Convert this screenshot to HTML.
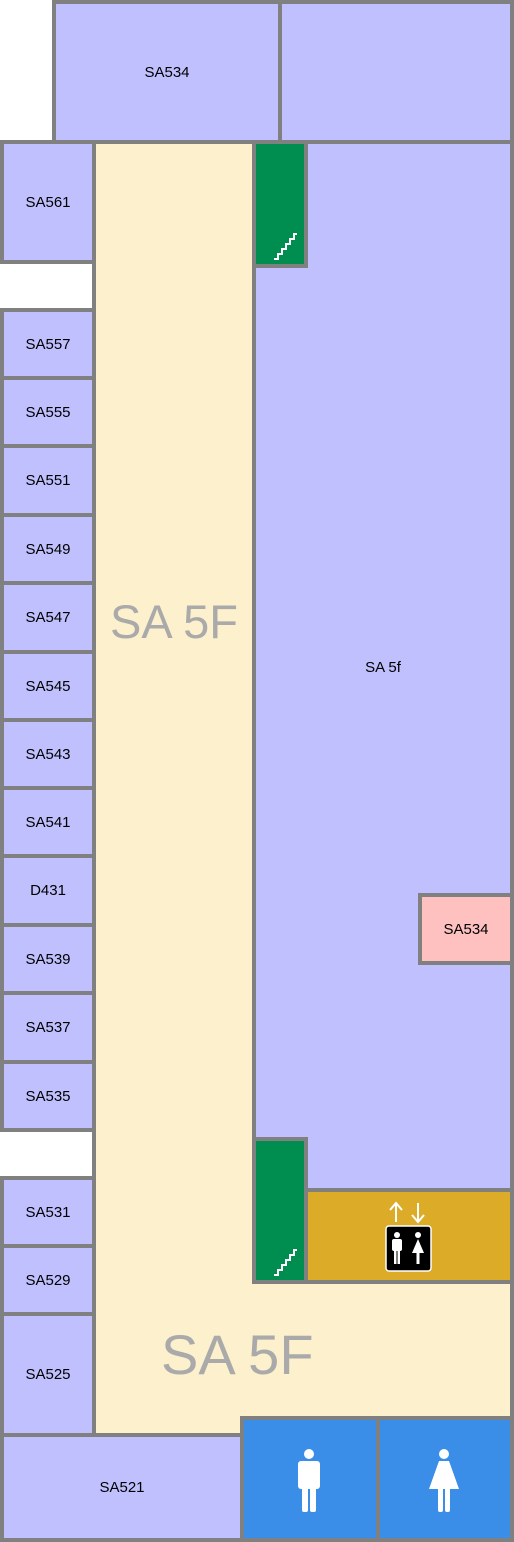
<!DOCTYPE html>
<html><head><style>
body{margin:0;width:514px;height:1542px;position:relative;background:#fff;overflow:hidden;font-family:"Liberation Sans",sans-serif}
.b{position:absolute;box-sizing:border-box;border:4px solid #808080;display:flex;align-items:center;justify-content:center;font-size:15px;color:#000}
.p{background:#c0c0ff}
.c{background:#fdf0cd}
.g{background:#008e50}
.big{position:absolute;color:#aaa;line-height:1}
</style></head><body>
<div class="b p" style="left:52px;top:0;width:230px;height:144px">SA534</div>
<div class="b p" style="left:278px;top:0;width:236px;height:144px"></div>
<div class="b c" style="left:92px;top:140px;width:164px;height:1298px"></div>
<div class="b c" style="left:92px;top:1278px;width:422px;height:160px;border-top:none"></div>
<div style="position:absolute;left:96px;top:1270px;width:158px;height:20px;background:#fdf0cd"></div>
<div class="b p" style="left:252px;top:140px;width:262px;height:1054px">SA 5f</div>
<div class="b p" style="left:0;top:140px;width:96px;height:124px">SA561</div>
<div class="b g" style="left:252px;top:140px;width:56px;height:128px"></div>
<div class="b" style="left:418px;top:893px;width:96px;height:72px;background:#ffc0c0">SA534</div>
<div class="b p" style="left:0;top:308px;width:96px;height:72px">SA557</div>
<div class="b p" style="left:0;top:376px;width:96px;height:72px">SA555</div>
<div class="b p" style="left:0;top:444px;width:96px;height:73px">SA551</div>
<div class="b p" style="left:0;top:513px;width:96px;height:72px">SA549</div>
<div class="b p" style="left:0;top:581px;width:96px;height:73px">SA547</div>
<div class="b p" style="left:0;top:650px;width:96px;height:72px">SA545</div>
<div class="b p" style="left:0;top:718px;width:96px;height:72px">SA543</div>
<div class="b p" style="left:0;top:786px;width:96px;height:72px">SA541</div>
<div class="b p" style="left:0;top:854px;width:96px;height:73px">D431</div>
<div class="b p" style="left:0;top:923px;width:96px;height:72px">SA539</div>
<div class="b p" style="left:0;top:991px;width:96px;height:73px">SA537</div>
<div class="b p" style="left:0;top:1060px;width:96px;height:72px">SA535</div>
<div class="b p" style="left:0;top:1176px;width:96px;height:72px">SA531</div>
<div class="b p" style="left:0;top:1244px;width:96px;height:72px">SA529</div>
<div class="b p" style="left:0;top:1312px;width:96px;height:125px">SA525</div>
<div class="b p" style="left:0;top:1433px;width:244px;height:109px">SA521</div>
<div class="b g" style="left:252px;top:1137px;width:56px;height:147px"></div>
<div class="b" style="left:304px;top:1188px;width:210px;height:96px;background:#dcac28"></div>
<div class="b" style="left:240px;top:1416px;width:140px;height:126px;background:#3a8ee8"></div>
<div class="b" style="left:376px;top:1416px;width:138px;height:126px;background:#3a8ee8"></div>
<div class="big" style="left:110px;top:598px;font-size:47px">SA 5F</div>
<div class="big" style="left:161px;top:1327px;font-size:56px">SA 5F</div>
<svg style="position:absolute;left:0;top:0" width="514" height="1542">
<g fill="none" stroke="#fff" stroke-width="2">
<path d="M274 259h4v-5h4v-5h4v-5h4v-5h4v-5h3"/>
<path d="M274 1275h4v-5h4v-5h4v-5h4v-5h4v-5h3"/>
<path d="M396 1222v-18M390 1210l6-7 6 7M418 1203v18M412 1215l6 7 6-7"/>
</g>
<rect x="386" y="1226" width="45" height="45" rx="3" fill="#000" stroke="#fff" stroke-width="1.5"/>
<g fill="#fff">
<circle cx="397" cy="1235" r="3"/><rect x="392" y="1239" width="10" height="12" rx="2"/><rect x="394" y="1249" width="2.5" height="15"/><rect x="397.5" y="1249" width="2.5" height="15"/>
<circle cx="418" cy="1235" r="3"/><path d="M418 1239l-6 14h12z"/><rect x="416.5" y="1252" width="3" height="12"/>
<circle cx="309" cy="1454" r="5"/><rect x="298" y="1461" width="22" height="28" rx="3"/><rect x="302" y="1485" width="6" height="27" rx="2"/><rect x="310" y="1485" width="6" height="27" rx="2"/>
<circle cx="444" cy="1454" r="5"/><path d="M439 1461h10l10 28h-30z"/><rect x="438" y="1487" width="5" height="25" rx="2"/><rect x="445" y="1487" width="5" height="25" rx="2"/>
</g>
</svg>
</body></html>
